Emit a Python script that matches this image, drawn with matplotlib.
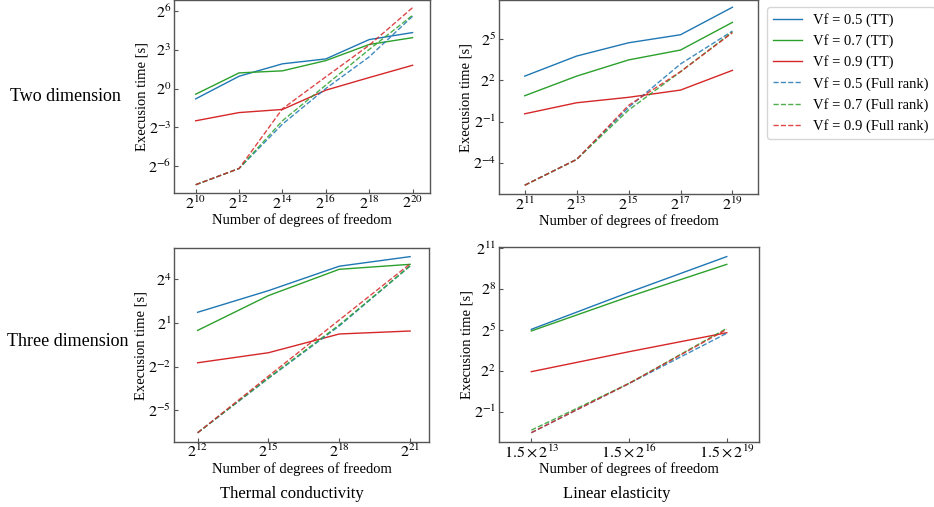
import numpy as np
import matplotlib
matplotlib.use("Agg")
import matplotlib.pyplot as plt
from matplotlib.ticker import NullLocator

plt.rcParams['font.family'] = ['Liberation Serif', 'DejaVu Serif']
plt.rcParams['mathtext.fontset'] = 'stix'

vf_labels = ["0.5", "0.7", "0.9"]
colors = ["tab:blue", "tab:green", "tab:red"]

# Thermal conductivity, 2D
tc2_dof = [2**10, 2**12, 2**14, 2**16, 2**18, 2**20]
tc2_tt = [
    [0.574, 1.93, 3.76, 4.89, 13.8, 20.1],
    [0.737, 2.31, 2.58, 4.47, 10.6, 15.3],
    [0.177, 0.275, 0.325, 0.914, 1.80, 3.48],
]
tc2_full = [
    [0.00573, 0.0137, 0.148, 1.00, 5.46, 48.2],
    [0.00573, 0.0137, 0.177, 1.20, 8.11, 50.9],
    [0.00573, 0.0137, 0.337, 1.87, 10.2, 76.6],
]

# Linear elasticity, 2D
le2_dof = [2**11, 2**13, 2**15, 2**17, 2**19]
le2_tt = [
    [4.96, 13.6, 26.5, 39.7, 158],
    [1.85, 4.96, 11.2, 18.4, 74.0],
    [0.747, 1.30, 1.71, 2.46, 6.63],
]
le2_full = [
    [0.0206, 0.0754, 1.03, 9.13, 47.8],
    [0.0206, 0.0754, 0.901, 6.19, 45.6],
    [0.0206, 0.0754, 1.14, 6.19, 44.0],
]

# Thermal conductivity, 3D
tc3_dof = [2**12, 2**15, 2**18, 2**21]
tc3_tt = [
    [3.32, 9.32, 29.9, 47.2],
    [1.40, 7.36, 25.8, 32.7],
    [0.299, 0.483, 1.18, 1.36],
]
tc3_full = [
    [0.0106, 0.142, 1.73, 30.3],
    [0.0106, 0.146, 1.82, 30.3],
    [0.0106, 0.158, 2.30, 33.4],
]

# Linear elasticity, 3D
le3_dof = [1.5 * 2**13, 1.5 * 2**16, 1.5 * 2**19]
le3_tt = [
    [33.1, 218, 1342],
    [30.5, 175, 904],
    [3.84, 10.6, 27.9],
]
le3_full = [
    [0.172, 2.11, 27.1],
    [0.196, 2.11, 34.8],
    [0.172, 2.11, 33.1],
]

fig = plt.figure(figsize=(9.34, 5.07), dpi=100)

panels = [
    # dof, tt, full, rect, xticks, xticklabels, yticks exps, xlim, ylim exps
    (tc2_dof, tc2_tt, tc2_full, [0.1863, 0.619, 0.274, 0.381],
     [2**k for k in range(10, 21, 2)], [r"$2^{%d}$" % k for k in range(10, 21, 2)],
     [-6, -3, 0, 3, 6], (2**9, 2**20.8), (-8.1, 6.85)),
    (le2_dof, le2_tt, le2_full, [0.534, 0.617, 0.278, 0.383],
     [2**k for k in range(11, 20, 2)], [r"$2^{%d}$" % k for k in range(11, 20, 2)],
     [-4, -1, 2, 5], (2**10, 2**20), (-6.25, 7.83)),
    (tc3_dof, tc3_tt, tc3_full, [0.1863, 0.128, 0.273, 0.383],
     [2**k for k in range(12, 22, 3)], [r"$2^{%d}$" % k for k in range(12, 22, 3)],
     [-5, -2, 1, 4], (2**11, 2**21.8), (-7.2, 6.16)),
    (le3_dof, le3_tt, le3_full, [0.534, 0.128, 0.279, 0.385],
     [1.5 * 2**k for k in range(13, 20, 3)], [r"$1.5\times2^{%d}$" % k for k in range(13, 20, 3)],
     [-1, 2, 5, 8, 11], (1.5 * 2**12, 1.5 * 2**20), (-3.23, 11.1)),
]

for dof, tt, full, rect, xt, xtl, yexp, xlim, ylim in panels:
    ax = fig.add_axes(rect)
    for i in range(3):
        ax.plot(dof, tt[i], color=colors[i], lw=1.0, label="Vf = %s (TT)" % vf_labels[i])
    for i in range(3):
        ax.plot(dof, full[i], color=colors[i], lw=1.0, ls="--", alpha=0.85,
                label="Vf = %s (Full rank)" % vf_labels[i])
    ax.set_xscale("log", base=2)
    ax.set_yscale("log", base=2)
    ax.set_xlim(xlim)
    ax.set_ylim(2.0**ylim[0], 2.0**ylim[1])
    ax.set_xticks(xt)
    ax.set_xticklabels(xtl, fontsize=11.5)
    ax.set_yticks([2.0**e for e in yexp])
    ax.set_yticklabels([r"$2^{%d}$" % e for e in yexp], fontsize=11.5)
    ax.xaxis.set_minor_locator(NullLocator())
    ax.yaxis.set_minor_locator(NullLocator())
    ax.tick_params(direction="in", length=3, color="#555555")
    ax.tick_params(axis="x", pad=1.5)
    ax.tick_params(axis="y", pad=2)
    for s in ax.spines.values():
        s.set_color("#555555")
        s.set_linewidth(1.0)
    ax.set_xlabel("Number of degrees of freedom", fontsize=10.5, labelpad=0.5)
    ax.set_ylabel("Execusion time [s]", fontsize=10.5, labelpad=0)
    last_ax = ax

handles, labels = last_ax.get_legend_handles_labels()
fig.legend(handles, labels, loc="upper left", bbox_to_anchor=(0.821, 0.986),
           fontsize=10.5, frameon=True, borderaxespad=0.0)

fig.text(0.0696, 0.809, "Two dimension", ha="center", va="center", fontsize=13)
fig.text(0.0728, 0.327, "Three dimension", ha="center", va="center", fontsize=13)
fig.text(0.3126, 0.0256, "Thermal conductivity", ha="center", va="center", fontsize=12)
fig.text(0.6606, 0.0256, "Linear elasticity", ha="center", va="center", fontsize=12)

fig.savefig("out.png", dpi=100)
